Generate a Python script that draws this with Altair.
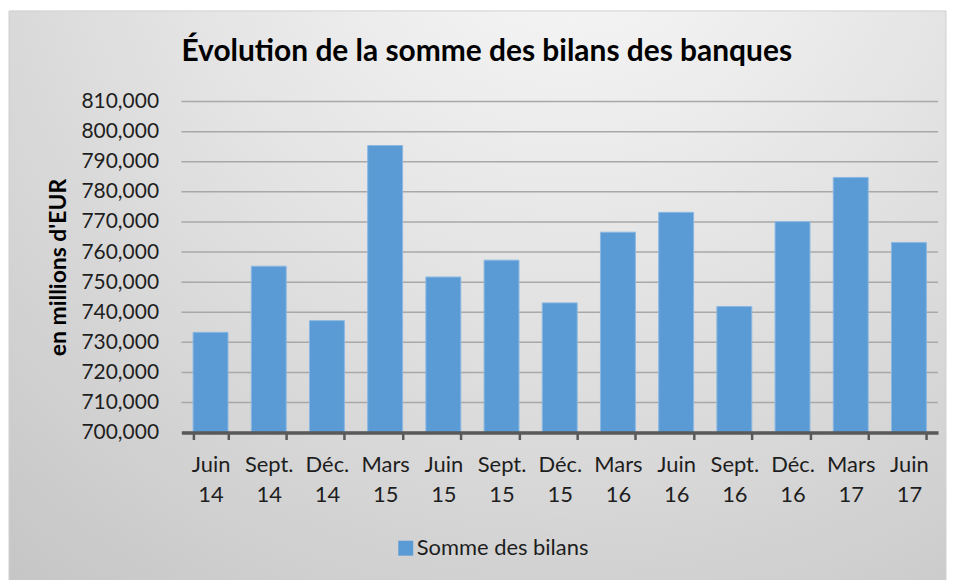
import altair as alt
import pandas as pd

categories = ["Juin 14", "Sept. 14", "Déc. 14", "Mars 15", "Juin 15", "Sept. 15", "Déc. 15",
              "Mars 16", "Juin 16", "Sept. 16", "Déc. 16", "Mars 17", "Juin 17"]
values = [733300, 755300, 737200, 795400, 751700, 757300, 743100,
          766600, 773200, 741900, 770100, 784800, 763200]
series_name = "Somme des bilans"
y_ticks = [700000, 710000, 720000, 730000, 740000, 750000, 760000, 770000, 780000, 790000, 800000, 810000]
title_text = "Évolution de la somme des bilans des banques"

W, H = 759, 332
PL, PT, PR, PB = 174, 93, 9, 147
FONT = "Lato"
BLUE = "#5B9BD5"

df = pd.DataFrame({"periode": categories, "valeur": values, "serie": [series_name] * len(categories)})
grid_df = pd.DataFrame({"tick": y_ticks})
one_df = pd.DataFrame({"a": [0]})

yscale = alt.Scale(domain=[700000, 810000], nice=False, zero=False)
xscale = alt.Scale(paddingInner=0.4, paddingOuter=0.2)

y_axis = alt.Axis(title="en millions d'EUR", values=y_ticks, format=",d",
                  labelFont=FONT, labelFontSize=21, labelColor="#1e1e1e",
                  labelOverlap=False, labelSeparation=0, labelBound=False,
                  titleFont=FONT, titleFontSize=23, titleFontWeight="bold",
                  titleColor="#000000", titlePadding=10,
                  ticks=False, tickSize=0, labelPadding=23, domain=False,
                  grid=False, zindex=1)

bg = alt.Chart(one_df).mark_rect(
    fill=alt.Gradient(
        gradient="radial",
        x1=0.6, y1=0.05, r1=0.0,
        x2=0.6, y2=0.05, r2=0.95,
        stops=[alt.GradientStop(color="#fafafa", offset=0),
               alt.GradientStop(color="#e4e4e4", offset=0.45),
               alt.GradientStop(color="#c6c6c6", offset=1)],
    ),
    stroke="#d0d0d0", strokeWidth=1,
).encode(
    x=alt.value(-PL + 1), x2=alt.value(W + PR - 1),
    y=alt.value(-PT + 2), y2=alt.value(H + PB + 10),
)

title = alt.Chart(one_df).mark_text(
    align="left", baseline="alphabetic", font=FONT, fontSize=30, fontWeight="bold", color="#000000",
).encode(x=alt.value(0), y=alt.value(-41), text=alt.value(title_text))

grid = alt.Chart(grid_df).mark_rule(color="#a8a8a8", strokeWidth=1.5).encode(
    y=alt.Y("tick:Q", scale=yscale, axis=y_axis),
    x=alt.value(0), x2=alt.value(W),
)

bars = alt.Chart(df).mark_bar(stroke="#8cb8e2", strokeWidth=1, clip=True).encode(
    x=alt.X("periode:N", sort=categories, scale=xscale,
            axis=alt.Axis(title=None, labelAngle=0, labelFont=FONT, labelFontSize=22,
                          labelColor="#1e1e1e", labelExpr="split(datum.label, ' ')",
                          labelLineHeight=30, labelPadding=15, labelBaseline="top",
                          tickBand="extent", tickSize=7, tickWidth=2.5, tickColor="#595959",
                          domainColor="#595959", domainWidth=3.5, grid=False, zindex=1)),
    y=alt.Y("valeur:Q", scale=yscale, axis=y_axis),
    color=alt.Color("serie:N", scale=alt.Scale(range=[BLUE]),
                    legend=alt.Legend(title=None, orient="none", legendX=214, legendY=437,
                                      symbolType="square", symbolSize=225, symbolStrokeWidth=0,
                                      labelFont=FONT, labelFontSize=22, labelColor="#1e1e1e",
                                      labelLimit=0, padding=0, labelOffset=0)),
)

chart = alt.layer(bg, title, grid, bars).properties(
    width=W, height=H,
    autosize=alt.AutoSizeParams(type="none"),
    padding={"left": PL, "top": PT, "right": PR, "bottom": PB},
).configure_view(stroke=None).configure(background="white")

chart.save("out.html", embed_options={"renderer": "svg", "actions": False})
